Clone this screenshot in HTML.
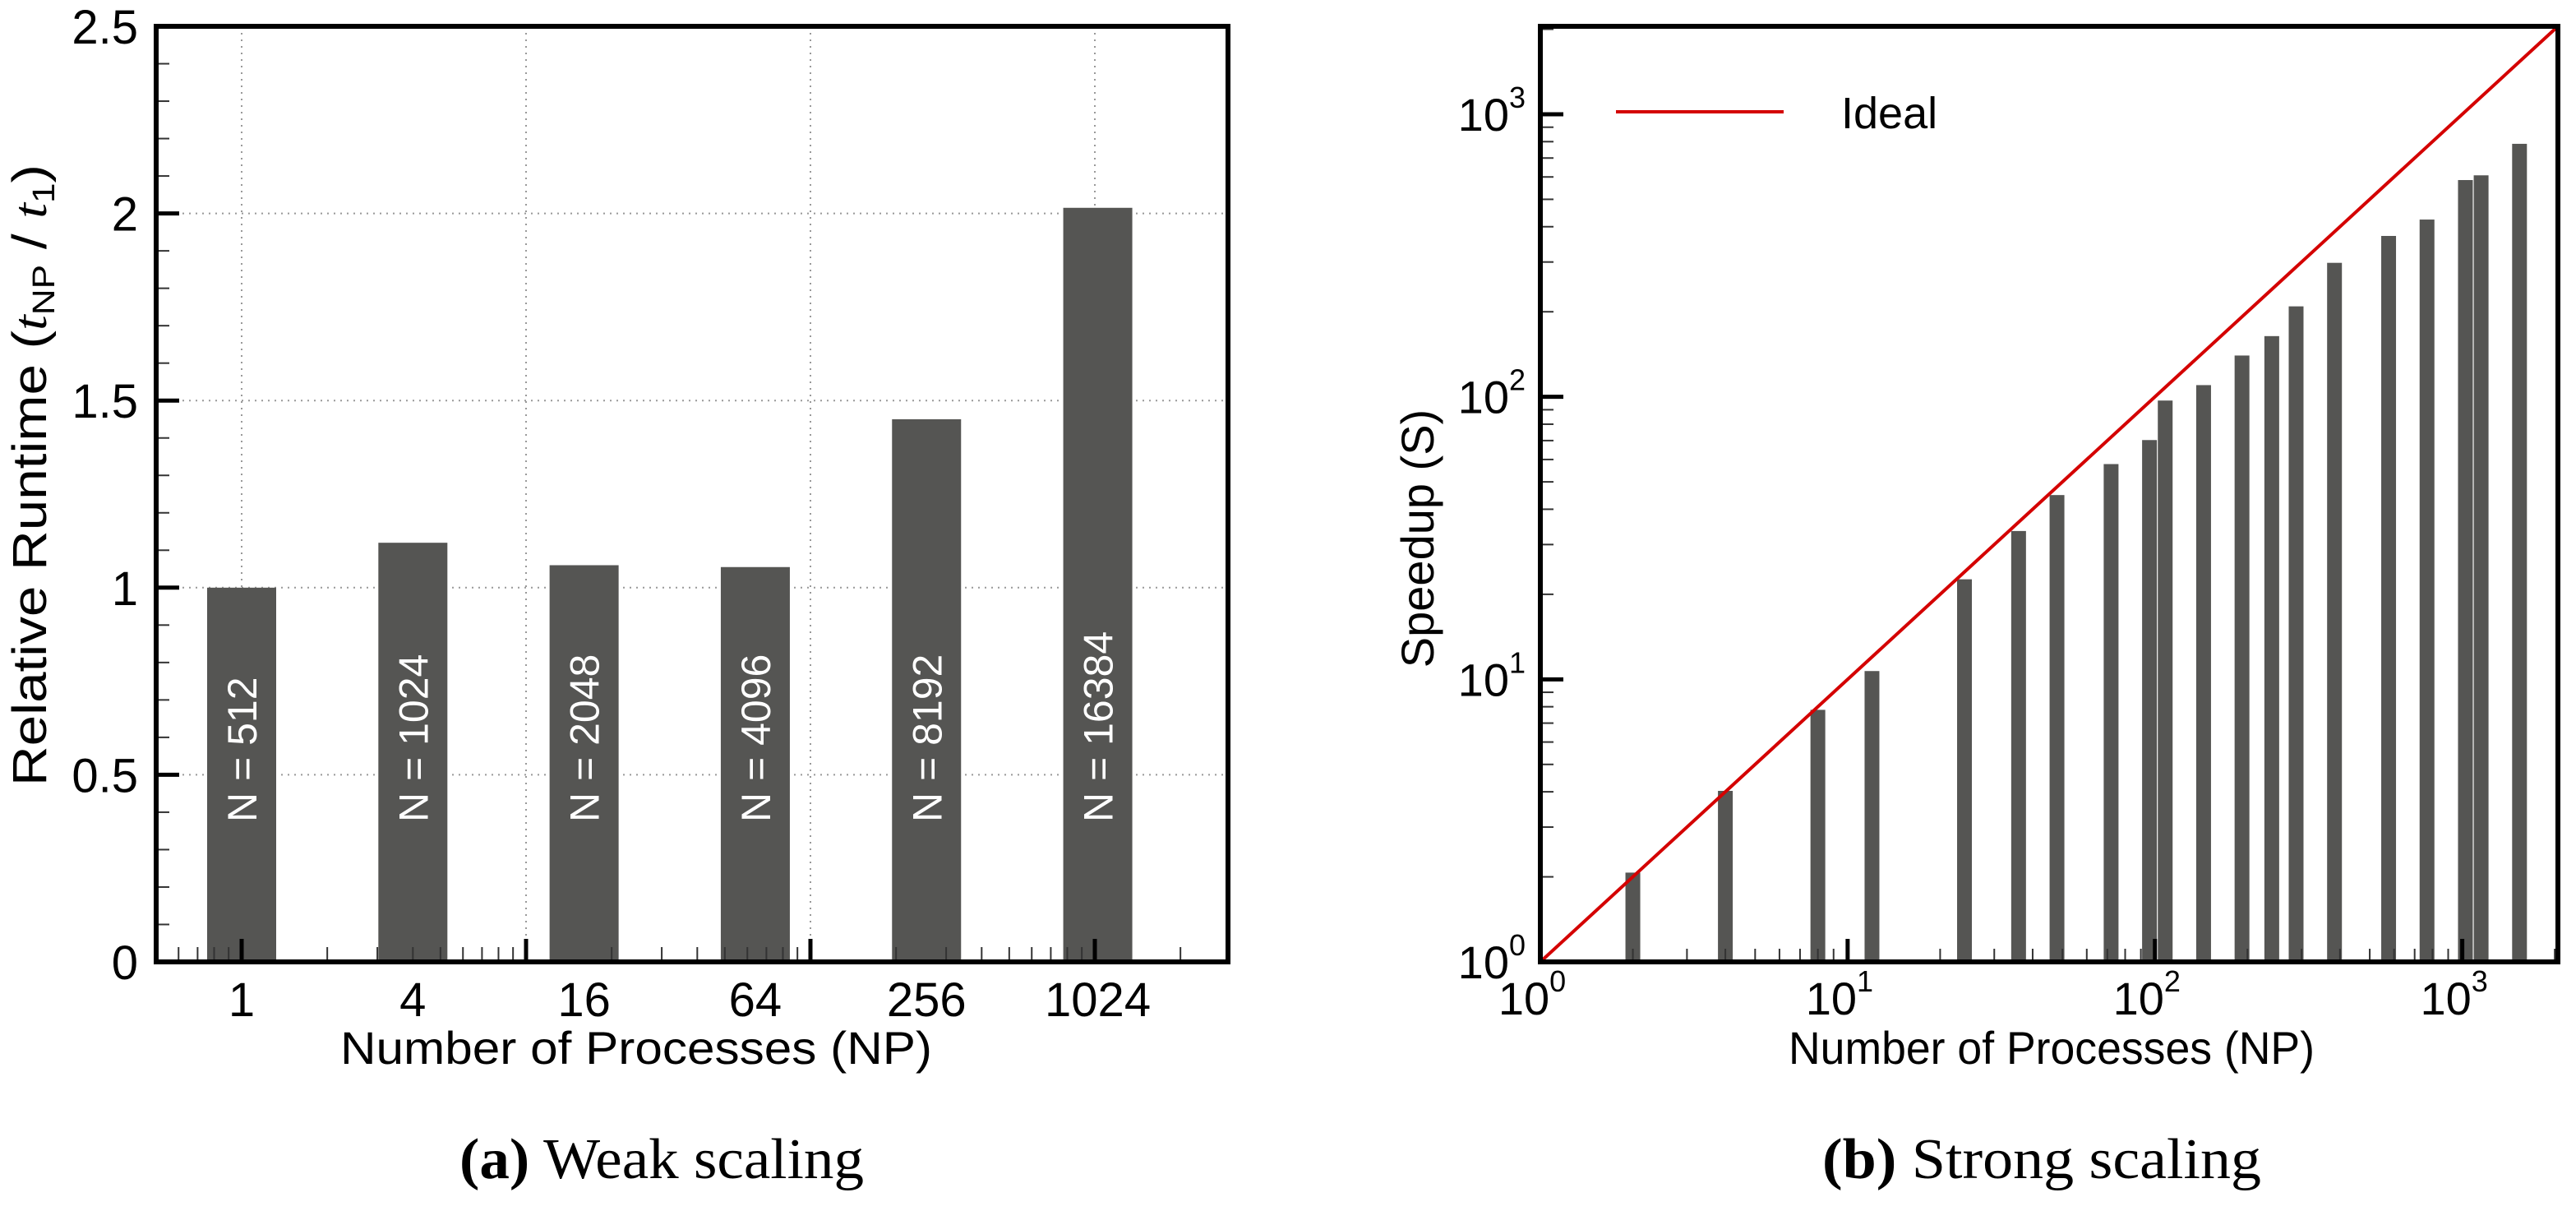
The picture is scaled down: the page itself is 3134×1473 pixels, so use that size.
<!DOCTYPE html>
<html><head><meta charset="utf-8"><style>
html,body{margin:0;padding:0;background:#fff}
svg{display:block}
text{font-family:"Liberation Sans",Arial,sans-serif;fill:#000}
.cap{font-family:"Liberation Serif","DejaVu Serif",serif}
</style></head><body>
<svg id="fig" width="3134" height="1473" viewBox="0 0 3134 1473" xmlns="http://www.w3.org/2000/svg">
<g id="left"></g>
<g id="right"></g>
<text class="cap" x="805" y="1433" text-anchor="middle" font-size="70" textLength="492" lengthAdjust="spacingAndGlyphs"><tspan font-weight="bold">(a)</tspan> Weak scaling</text>
<text class="cap" x="2484" y="1433" text-anchor="middle" font-size="70" textLength="534" lengthAdjust="spacingAndGlyphs"><tspan font-weight="bold">(b)</tspan> Strong scaling</text>
</svg>
<script>
// ---- Weak scaling data ----
const weakNP = [1, 4, 16, 64, 256, 1024];
const weakRuntime = [1.0, 1.12, 1.06, 1.055, 1.45, 2.015];
const weakN = ["N = 512", "N = 1024", "N = 2048", "N = 4096", "N = 8192", "N = 16384"];
const weakYTicks = [0, 0.5, 1, 1.5, 2, 2.5];
const weakYTickLabels = ["0", "0.5", "1", "1.5", "2", "2.5"];
// ---- Strong scaling data ----
const strongNP = [2, 4, 8, 12, 24, 36, 48, 72, 96, 108, 144, 192, 240, 288, 384, 576, 768, 1024, 1152, 1536];
const strongSpeedup = [2.07, 4.03, 7.8, 10.7, 22.6, 33.5, 44.9, 57.8, 70.3, 97, 110, 140, 164, 209, 298, 371, 424, 585, 608, 786];
const strongDecades = [0, 1, 2, 3];
const idealRange = [1, 2048];

const NS = "http://www.w3.org/2000/svg";
function mk(parent, tag, attrs, txt) {
  const e = document.createElementNS(NS, tag);
  for (const k in attrs) e.setAttribute(k, attrs[k]);
  if (txt !== undefined) e.textContent = txt;
  parent.appendChild(e);
  return e;
}
const BAR = "#555553";

// ===== Left chart =====
(function () {
  const g = document.getElementById("left");
  const L = 190, R = 1494, T = 32, B = 1170;
  const px = v => 294 + 346 * Math.log10(v);
  const py = v => B - (B - T) * v / 2.5;
  for (const v of weakYTicks.slice(1, -1)) {
    const l = mk(g, "line", {x1: L, x2: R, y1: py(v), y2: py(v), stroke: "#999", "stroke-width": 2, "stroke-dasharray": "2 6"});
    
    
  }
  for (const d of [1, 10, 100, 1000]) {
    if (px(d) > R) continue;
    const l = mk(g, "line", {x1: px(d), x2: px(d), y1: T, y2: B, stroke: "#999", "stroke-width": 2, "stroke-dasharray": "2 6"});
    
    
  }
  weakNP.forEach((n, i) => {
    const cx = px(n), y = py(weakRuntime[i]);
    const r = mk(g, "rect", {x: cx - 42, y: y, width: 84, height: B - y, fill: BAR});
    
    
    const t = mk(g, "text", {x: 0, y: 0, transform: `translate(${cx + 18},1000) rotate(-90)`, "font-size": 50, fill: "#fff", style: "fill:#fff"}, weakN[i]);
    
    
  });
  for (let d = 0.1; d <= 1000; d *= 10) {
    for (let k = 2; k <= 9; k++) {
      const x = px(k * d);
      if (x <= L || x >= R) continue;
      const l = mk(g, "line", {x1: x, x2: x, y1: B, y2: B - 18, stroke: "#333", "stroke-width": 2});
      
      
    }
  }
  for (const d of [1, 10, 100, 1000]) {
    if (px(d) > R) continue;
    const l = mk(g, "line", {x1: px(d), x2: px(d), y1: B, y2: B - 28, stroke: "#000", "stroke-width": 5});
    
    
  }
  for (let v = 0.1; v < 2.5; v += 0.1) {
    const major = Math.abs(v * 2 - Math.round(v * 2)) < 1e-6;
    const l = mk(g, "line", {x1: L, x2: L + (major ? 28 : 16), y1: py(v), y2: py(v), stroke: major ? "#000" : "#333", "stroke-width": major ? 5 : 2});
    
    
  }
  weakYTicks.forEach((v, i) => {
    const t = mk(g, "text", {x: 168, y: py(v) + 21, "text-anchor": "end", "font-size": 58}, weakYTickLabels[i]);
    
    
  });
  weakNP.forEach(n => {
    const t = mk(g, "text", {x: px(n), y: 1236, "text-anchor": "middle", "font-size": 58}, String(n));
    
    
  });
  const fr = mk(g, "rect", {x: L, y: T, width: R - L, height: B - T, fill: "none", stroke: "#000", "stroke-width": 6});
  
  
  const xt = mk(g, "text", {x: 774, y: 1294, "text-anchor": "middle", "font-size": 56, textLength: 720, lengthAdjust: "spacingAndGlyphs"}, "Number of Processes (NP)");
  
  
  const yt = mk(g, "text", {x: 0, y: 0, transform: "translate(56,578) rotate(-90)", "text-anchor": "middle", "font-size": 58, textLength: 756, lengthAdjust: "spacingAndGlyphs"});
  
  
  yt.innerHTML = 'Relative Runtime (<tspan font-family="Liberation Serif" font-style="italic">t</tspan><tspan font-size="38" dy="10">NP</tspan><tspan dy="-10"> / </tspan><tspan font-family="Liberation Serif" font-style="italic">t</tspan><tspan font-size="38" dy="10">1</tspan><tspan dy="-10">)</tspan>';
})();

// ===== Right chart =====
(function () {
  const g = document.getElementById("right");
  const L = 1874, R = 3112, T = 32, B = 1170;
  const lmax = Math.log10(2048);
  const px = v => L + (R - L) * Math.log10(v) / lmax;
  const py = v => B - (B - T) * Math.log10(v) / lmax;
  strongNP.forEach((n, i) => {
    const cx = px(n), y = py(strongSpeedup[i]);
    const r = mk(g, "rect", {x: cx - 9, y: y, width: 18, height: B - y, fill: BAR});
    
    
  });
  const il = mk(g, "line", {x1: px(idealRange[0]), y1: py(idealRange[0]), x2: px(idealRange[1]), y2: py(idealRange[1]), stroke: "#d40000", "stroke-width": 4});
  
  
  for (let d = 1; d <= 1000; d *= 10) {
    for (let k = 2; k <= 9; k++) {
      const v = k * d;
      if (px(v) < R) {
        const l = mk(g, "line", {x1: px(v), x2: px(v), y1: B, y2: B - 16, stroke: "#333", "stroke-width": 2});
        
        
      }
      if (py(v) > T) {
        const l = mk(g, "line", {x1: L, x2: L + 16, y1: py(v), y2: py(v), stroke: "#333", "stroke-width": 2});
        
        
      }
    }
  }
  strongDecades.forEach(e => {
    const v = Math.pow(10, e);
    const a = mk(g, "line", {x1: px(v), x2: px(v), y1: B, y2: B - 28, stroke: "#000", "stroke-width": 5});
    
    
    const b = mk(g, "line", {x1: L, x2: L + 28, y1: py(v), y2: py(v), stroke: "#000", "stroke-width": 5});
    
    
    const tx = mk(g, "text", {x: px(v) - 10, y: 1234, "text-anchor": "middle", "font-size": 56});
    
    
    tx.innerHTML = '10<tspan font-size="36" dy="-28">' + e + '</tspan>';
    const ty = mk(g, "text", {x: 1856, y: py(v) + 20, "text-anchor": "end", "font-size": 56});
    
    
    ty.innerHTML = '10<tspan font-size="36" dy="-28">' + e + '</tspan>';
  });
  const fr = mk(g, "rect", {x: L, y: T, width: R - L, height: B - T, fill: "none", stroke: "#000", "stroke-width": 6});
  
  
  const lg = mk(g, "line", {x1: 1966, x2: 2170, y1: 136, y2: 136, stroke: "#d40000", "stroke-width": 4});
  
  
  const lt = mk(g, "text", {x: 2240, y: 156, "font-size": 54}, "Ideal");
  
  
  const xt = mk(g, "text", {x: 2496, y: 1294, "text-anchor": "middle", "font-size": 56, textLength: 640, lengthAdjust: "spacingAndGlyphs"}, "Number of Processes (NP)");
  
  
  const yt = mk(g, "text", {x: 0, y: 0, transform: "translate(1744,655) rotate(-90)", "text-anchor": "middle", "font-size": 56}, "Speedup (S)");
  
  
})();
</script>
</body></html>
